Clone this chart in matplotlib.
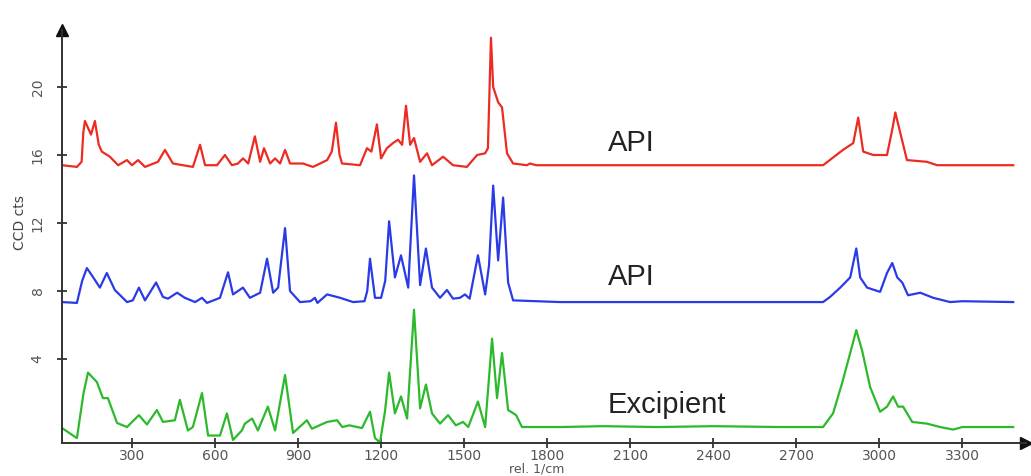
import matplotlib
matplotlib.use("Agg")
import matplotlib.pyplot as plt
import numpy as np

# (wavenumber, counts)
api_top = [(47, 15.4), (101, 15.3), (118, 15.6), (124, 17.3), (130, 18.0), (152, 17.2),
           (166, 18.0), (180, 16.6), (191, 16.2), (220, 15.9), (250, 15.4), (282, 15.7),
           (300, 15.4), (322, 15.7), (347, 15.3), (394, 15.6), (419, 16.3), (448, 15.5),
           (520, 15.3), (546, 16.6), (564, 15.4), (607, 15.4), (636, 16.0), (661, 15.4),
           (683, 15.5), (701, 15.8), (720, 15.5), (744, 17.1), (763, 15.6), (777, 16.4),
           (799, 15.5), (817, 15.8), (835, 15.5), (853, 16.3), (871, 15.5), (918, 15.5),
           (954, 15.3), (1005, 15.7), (1022, 16.2), (1037, 17.9), (1050, 16.0), (1059, 15.5),
           (1124, 15.4), (1149, 16.4), (1165, 16.2), (1185, 17.8), (1200, 15.8), (1221, 16.4),
           (1243, 16.7), (1261, 16.9), (1276, 16.6), (1290, 18.9), (1305, 16.6), (1319, 17.0),
           (1341, 15.6), (1366, 16.1), (1384, 15.4), (1424, 15.9), (1460, 15.4), (1510, 15.3),
           (1547, 16.0), (1576, 16.1), (1586, 16.4), (1597, 22.9), (1605, 20.0), (1623, 19.1),
           (1637, 18.8), (1655, 16.1), (1677, 15.5), (1727, 15.4), (1738, 15.5), (1760, 15.4),
           (2200, 15.4), (2642, 15.4), (2797, 15.4), (2869, 16.3), (2906, 16.7), (2924, 18.2),
           (2942, 16.2), (2978, 16.0), (3028, 16.0), (3047, 17.5), (3058, 18.5), (3076, 17.3),
           (3100, 15.7), (3172, 15.6), (3209, 15.4), (3484, 15.4)]

api_mid = [(47, 7.35), (101, 7.3), (120, 8.6), (137, 9.35), (160, 8.8), (184, 8.2),
           (209, 9.06), (238, 8.06), (282, 7.35), (303, 7.45), (325, 8.2), (347, 7.45),
           (387, 8.5), (412, 7.65), (430, 7.55), (463, 7.9), (491, 7.6), (528, 7.35),
           (553, 7.6), (571, 7.3), (618, 7.6), (647, 9.1), (665, 7.8), (701, 8.2),
           (726, 7.6), (763, 7.9), (788, 9.9), (810, 7.9), (828, 8.2), (853, 11.7),
           (871, 8.0), (907, 7.35), (945, 7.4), (961, 7.6), (970, 7.3), (1005, 7.8),
           (1052, 7.6), (1099, 7.35), (1140, 7.4), (1150, 8.0), (1160, 9.9), (1178, 7.6),
           (1200, 7.6), (1215, 8.6), (1229, 12.1), (1250, 8.8), (1272, 10.1), (1298, 8.2),
           (1319, 14.8), (1341, 8.35), (1362, 10.5), (1384, 8.2), (1413, 7.6), (1438, 8.06),
           (1460, 7.55), (1485, 7.6), (1503, 7.8), (1520, 7.55), (1550, 10.1), (1576, 7.8),
           (1590, 9.5), (1605, 14.2), (1623, 9.8), (1641, 13.5), (1659, 8.5), (1677, 7.45),
           (1847, 7.35), (2200, 7.35), (2642, 7.35), (2797, 7.35), (2822, 7.65), (2859, 8.2),
           (2895, 8.8), (2917, 10.5), (2931, 8.8), (2956, 8.2), (3003, 7.95), (3028, 9.06),
           (3047, 9.65), (3065, 8.8), (3083, 8.5), (3104, 7.75), (3148, 7.9), (3195, 7.6),
           (3256, 7.35), (3300, 7.4), (3484, 7.35)]

excipient = [(47, -0.06), (101, -0.65), (125, 2.0), (141, 3.2), (173, 2.65), (195, 1.7),
             (213, 1.7), (246, 0.24), (282, 0.0), (325, 0.7), (354, 0.15), (390, 1.0),
             (412, 0.3), (455, 0.4), (473, 1.6), (502, -0.2), (520, 0.0), (553, 2.0),
             (575, -0.5), (618, -0.5), (643, 0.8), (665, -0.76), (697, -0.2), (708, 0.2),
             (734, 0.5), (755, -0.2), (791, 1.2), (817, -0.2), (853, 3.06), (882, -0.35),
             (932, 0.4), (950, -0.1), (1005, 0.3), (1041, 0.4), (1060, 0.0), (1085, 0.1),
             (1131, -0.06), (1160, 0.9), (1178, -0.65), (1196, -0.9), (1214, 0.9), (1229, 3.2),
             (1250, 0.8), (1272, 1.8), (1294, 0.5), (1319, 6.9), (1341, 1.1), (1362, 2.5),
             (1384, 0.8), (1413, 0.2), (1442, 0.7), (1470, 0.1), (1496, 0.3), (1515, 0.0),
             (1550, 1.5), (1576, 0.0), (1601, 5.2), (1619, 1.7), (1637, 4.35), (1659, 1.0),
             (1688, 0.7), (1709, 0.0), (1847, 0.0), (2000, 0.05), (2200, 0.0), (2400, 0.05),
             (2642, 0.0), (2797, 0.0), (2833, 0.8), (2866, 2.6), (2895, 4.35), (2917, 5.7),
             (2938, 4.5), (2967, 2.35), (3003, 0.9), (3028, 1.2), (3050, 1.8), (3068, 1.2),
             (3086, 1.2), (3119, 0.3), (3172, 0.2), (3220, 0.0), (3267, -0.15), (3300, 0.0),
             (3484, 0.0)]

series_labels = ["API", "API", "Excipient"]
label_y = [16.7, 8.8, 1.3]
x_ticks = [300, 600, 900, 1200, 1500, 1800, 2100, 2400, 2700, 3000, 3300]
y_ticks = [4, 8, 12, 16, 20]

colors = ["#ec2b22", "#2a3be6", "#2cb92c"]

fig = plt.figure(figsize=(10.31, 4.76), dpi=100)
ax = fig.add_axes([0.0601, 0.0693, 0.935, 0.8676])

for pts, c in zip([api_top, api_mid, excipient], colors):
    arr = np.array(pts)
    ax.plot(arr[:, 0], arr[:, 1], color=c, lw=1.6, solid_joinstyle="round")

for lab, yy in zip(series_labels, label_y):
    ax.text(2020, yy, lab, fontsize=21, family="Liberation Sans",
            color="#222222", va="center", ha="left")

ax.set_xlim(47, 3530)
ax.set_ylim(-0.94, 23.35)

for s in ["top", "right"]:
    ax.spines[s].set_visible(False)
for s in ["left", "bottom"]:
    ax.spines[s].set_color("#333333")
    ax.spines[s].set_linewidth(1.4)

# arrow heads on the axes
ax.plot(1, 0, marker=">", color="#111111", markersize=8,
        transform=ax.transAxes, clip_on=False)
ax.plot(0, 1, marker="^", color="#111111", markersize=8,
        transform=ax.transAxes, clip_on=False)

ax.set_xticks(x_ticks)
ax.set_yticks(y_ticks)
ax.set_yticklabels([str(t) for t in y_ticks], rotation=90, va="center")
ax.tick_params(direction="inout", length=7, width=1.3, color="#333333",
               labelsize=10, labelcolor="#555555")
ax.tick_params(axis="x", pad=1)
ax.tick_params(axis="y", pad=9)

fig.text(20 / 1031, 1 - 223 / 476, "CCD cts", rotation=90, fontsize=10,
         color="#444444", ha="center", va="center")
fig.text(537 / 1031, 0.0, "rel. 1/cm", fontsize=9,
         color="#555555", ha="center", va="bottom")

fig.savefig("out.png", dpi=100)
